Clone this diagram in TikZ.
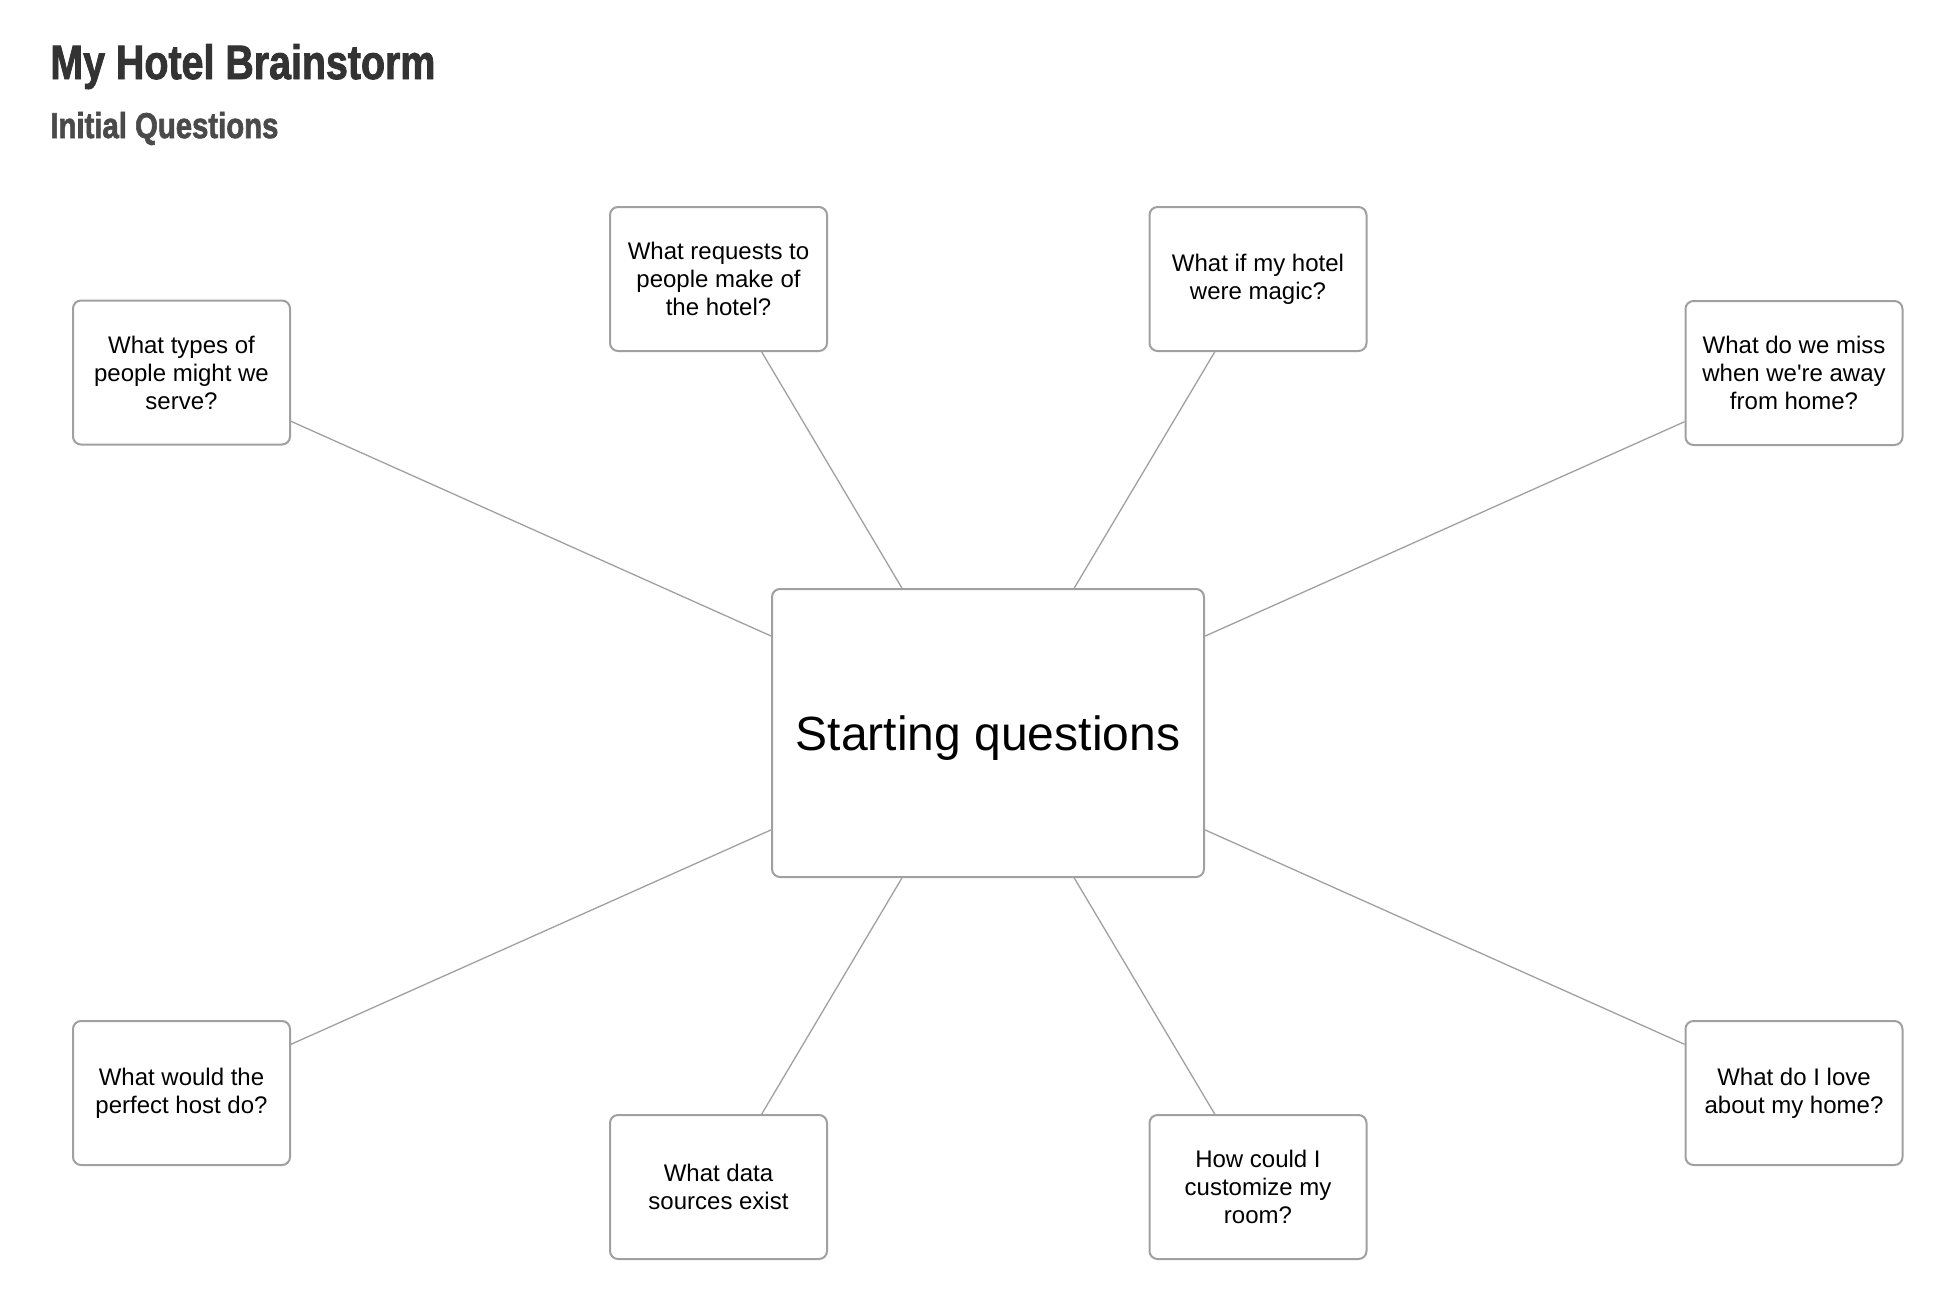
\documentclass[tikz,border=0pt]{standalone}
\usepackage{fontspec}
\setmainfont{Liberation Sans}[Ligatures=TeXOff]
\newfontfamily\headfont[FakeBold=2]{Liberation Sans Bold}
\usepackage{graphicx}
\definecolor{titlegray}{HTML}{333333}
\definecolor{subgray}{HTML}{4A4A4A}
\definecolor{edgegray}{HTML}{A0A0A0}
\begin{document}
\begin{tikzpicture}[x=0.5pt,y=-0.5pt,
  qbox/.style={draw=edgegray, line width=1pt, fill=white, rounded corners=4pt,
    minimum width=108.5pt, minimum height=72pt, inner sep=0pt, align=center,
    font=\fontsize{12pt}{14pt}\selectfont},
  hub/.style={draw=edgegray, line width=1pt, fill=white, rounded corners=4pt,
    minimum width=216pt, minimum height=144pt, inner sep=0pt, align=center,
    text depth=0pt, font=\fontsize{24pt}{28pt}\selectfont},
  conn/.style={draw=edgegray, line width=0.65pt}]
\useasboundingbox (0,0) rectangle (1950,1302);

\node[anchor=base west, inner sep=0pt, text=titlegray] (title) at (50,79)
  {\resizebox{192.5pt}{17.5pt}{\headfont My Hotel Brainstorm}};
\node[anchor=base west, inner sep=0pt, text=subgray] (subtitle) at (50,138)
  {\resizebox{114pt}{13pt}{\headfont Initial Questions}};

\node[hub] (c) at (988,733) {Starting questions};

\node[qbox] (types) at (181.5,372.5) {What types of\\people might we\\serve?};
\node[qbox] (requests) at (718.5,279) {What requests to\\people make of\\the hotel?};
\node[qbox] (magic) at (1258,279) {What if my hotel\\were magic?};
\node[qbox] (miss) at (1794,373) {What do we miss\\when we're away\\from home?};
\node[qbox] (host) at (181.5,1093) {What would the\\perfect host do?};
\node[qbox] (data) at (718.5,1187) {What data\\sources exist};
\node[qbox] (custom) at (1258,1187) {How could I\\customize my\\room?};
\node[qbox] (love) at (1794,1093) {What do I love\\about my home?};

\foreach \n in {types,requests,magic,miss,host,data,custom,love}
  \draw[conn] (c) -- (\n);
\end{tikzpicture}
\end{document}
